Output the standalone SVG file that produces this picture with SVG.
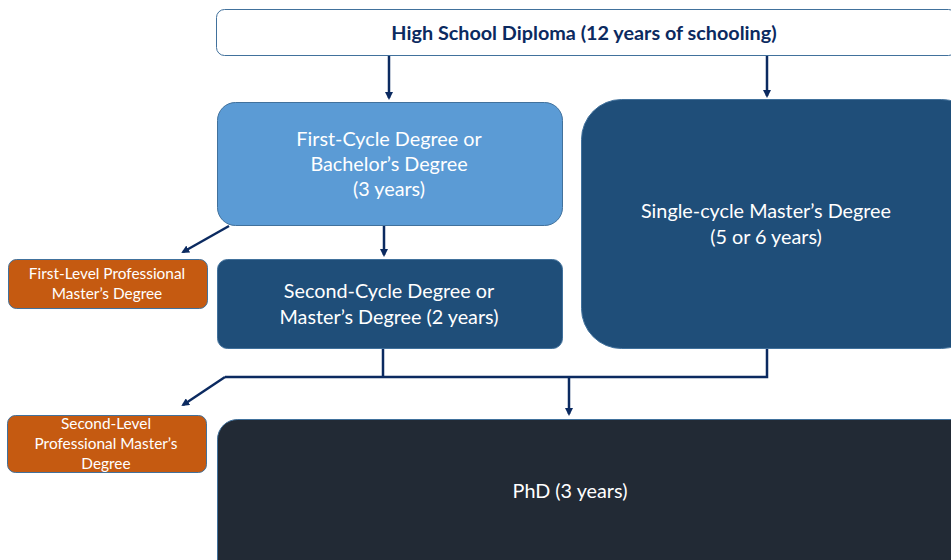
<svg xmlns="http://www.w3.org/2000/svg" width="951" height="560" viewBox="0 0 951 560">
<defs>
<marker id="ah" markerWidth="8" markerHeight="8" refX="6" refY="4" orient="auto" markerUnits="userSpaceOnUse">
<path d="M0,0 L8,4 L0,8 Z" fill="#0B2A60"/>
</marker>
<style>
text{font-family:Lato,"Open Sans","Liberation Sans",sans-serif;text-anchor:middle}
.w{fill:#FFFFFF;font-size:19.8px}
.s{fill:#FFFFFF;font-size:15.4px}
.c{stroke:#0B2A60;stroke-width:2.5;fill:none}
</style>
</defs>
<rect width="951" height="560" fill="#FFFFFF"/>
<g id="connectors">
<line class="c" x1="389" y1="56" x2="389" y2="98" marker-end="url(#ah)"/>
<line class="c" x1="767" y1="56" x2="767" y2="96" marker-end="url(#ah)"/>
<line class="c" x1="384" y1="226" x2="384" y2="255" marker-end="url(#ah)"/>
<line class="c" x1="229" y1="226" x2="183" y2="252" marker-end="url(#ah)"/>
<polyline class="c" points="383,348 383,377"/>
<polyline class="c" points="767,348 767,377 225,377"/>
<line class="c" x1="225" y1="377" x2="183" y2="405" marker-end="url(#ah)"/>
<line class="c" x1="569" y1="377" x2="569" y2="414" marker-end="url(#ah)"/>
</g>
<g id="highschool">
<rect x="216.5" y="9.5" width="740" height="46" rx="8" fill="#FFFFFF" stroke="#41719C" stroke-width="1"/>
<text x="584" y="40" font-size="19.8" font-weight="bold" fill="#0B2A60">High School Diploma (12 years of schooling)</text>
</g>
<g id="firstcycle">
<rect x="217.5" y="102.5" width="345" height="123" rx="18" fill="#5B9BD5" stroke="#41719C" stroke-width="1"/>
<text class="w" x="389" y="146">First-Cycle Degree or</text>
<text class="w" x="389" y="171">Bachelor’s Degree</text>
<text class="w" x="389" y="196">(3 years)</text>
</g>
<g id="singlecycle">
<rect x="581.5" y="99.5" width="400" height="249" rx="40" fill="#1F4E79" stroke="#41719C" stroke-width="1"/>
<text class="w" x="766" y="218">Single-cycle Master’s Degree</text>
<text class="w" x="766" y="244">(5 or 6 years)</text>
</g>
<g id="secondcycle">
<rect x="217.5" y="259.5" width="345" height="89" rx="10" fill="#1F4E79" stroke="#41719C" stroke-width="1"/>
<text class="w" x="389" y="298">Second-Cycle Degree or</text>
<text class="w" x="389" y="324">Master’s Degree (2 years)</text>
</g>
<g id="firstlevel">
<rect x="8.5" y="259.5" width="199" height="49" rx="8" fill="#C55A11" stroke="#41719C" stroke-width="1"/>
<text class="s" x="107" y="279">First-Level Professional</text>
<text class="s" x="107" y="299">Master’s Degree</text>
</g>
<g id="secondlevel">
<rect x="7.5" y="415.5" width="199" height="57" rx="8" fill="#C55A11" stroke="#41719C" stroke-width="1"/>
<text class="s" x="106" y="429">Second-Level</text>
<text class="s" x="106" y="449">Professional Master’s</text>
<text class="s" x="106" y="469">Degree</text>
</g>
<g id="phd">
<rect x="217.5" y="419.5" width="760" height="170" rx="20" fill="#222A35" stroke="#41719C" stroke-width="1"/>
<text class="w" x="570" y="498">PhD (3 years)</text>
</g>
</svg>
